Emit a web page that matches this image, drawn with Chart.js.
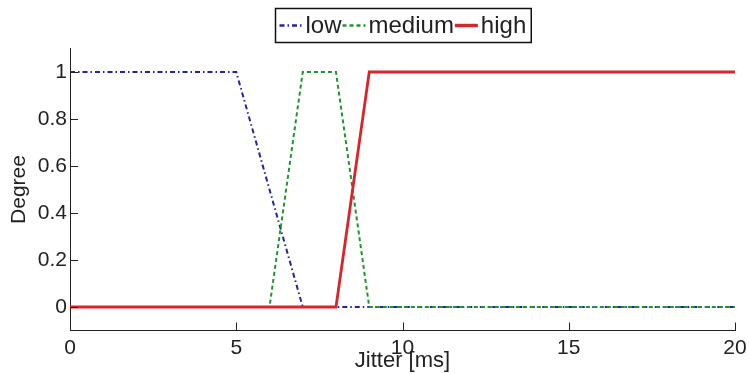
<!DOCTYPE html>
<html>
<head>
<meta charset="utf-8">
<script src="https://cdn.jsdelivr.net/npm/chart.js@4.4.0/dist/chart.umd.min.js"></script>
<style>
html, body { margin: 0; padding: 0; background: #fff; }
</style>
</head>
<body>
<canvas id="fuzzy-chart" width="749" height="374"></canvas>
<script>
// Membership functions of the jitter (x in ms, y = degree)
const lowX = [0, 5, 7, 20];
const lowY = [1, 1, 0, 0];
const mediumX = [0, 6, 7, 8, 9, 20];
const mediumY = [0, 0, 1, 1, 0, 0];
const highX = [0, 8, 9, 20];
const highY = [0, 0, 1, 1];

const seriesLabels = ['low', 'medium', 'high'];
const xTicks = [0, 5, 10, 15, 20];
const yTicks = [0, 0.2, 0.4, 0.6, 0.8, 1];
const xTitle = 'Jitter [ms]';
const yTitle = 'Degree';

const textColor = '#222';
const fontFamily = '"Liberation Sans", Arial, sans-serif';

function toPoints(xs, ys) {
    return xs.map((x, i) => ({ x: x, y: ys[i] }));
}

// small tick marks pointing into the plot, like matlab
const innerTicks = {
    id: 'innerTicks',
    afterDraw(chart) {
        const { ctx, chartArea, scales } = chart;
        ctx.save();
        ctx.strokeStyle = textColor;
        ctx.lineWidth = 1;
        ctx.beginPath();
        scales.x.ticks.forEach(t => {
            const px = Math.round(scales.x.getPixelForValue(t.value)) + 0.5;
            ctx.moveTo(px, chartArea.bottom);
            ctx.lineTo(px, chartArea.bottom - 8);
        });
        scales.y.ticks.forEach(t => {
            const py = Math.round(scales.y.getPixelForValue(t.value)) + 0.5;
            ctx.moveTo(chartArea.left, py);
            ctx.lineTo(chartArea.left + 8, py);
        });
        ctx.stroke();
        ctx.restore();
    }
};

// legend in a box, line samples glued to the labels
const boxedLegend = {
    id: 'boxedLegend',
    afterDraw(chart) {
        const ctx = chart.ctx;
        const sample = 23, gapText = 3, gapItem = 1, padX = 4;
        const top = 8.5, h = 34;
        ctx.save();
        ctx.font = '24px ' + fontFamily;
        const sets = chart.data.datasets;
        const widths = sets.map(d => ctx.measureText(d.label).width);
        let total = padX * 2;
        widths.forEach(w => { total += sample + gapText + w + gapItem; });
        const cx = (chart.chartArea.left + chart.chartArea.right) / 2;
        let x = Math.round(cx - total / 2) + 0.5;
        ctx.strokeStyle = '#111';
        ctx.lineWidth = 1.5;
        ctx.strokeRect(x, top, total, h);
        x += padX;
        const midY = top + h / 2;
        sets.forEach((d, i) => {
            ctx.save();
            ctx.strokeStyle = d.borderColor;
            ctx.lineWidth = d.borderWidth + 0.6;
            ctx.setLineDash(d.borderDash || []);
            ctx.beginPath();
            ctx.moveTo(x, midY);
            ctx.lineTo(x + sample, midY);
            ctx.stroke();
            ctx.restore();
            x += sample + gapText;
            ctx.fillStyle = textColor;
            ctx.textBaseline = 'middle';
            ctx.fillText(d.label, x, midY + 1);
            x += widths[i] + gapItem;
        });
        ctx.restore();
    }
};

const ctx = document.getElementById('fuzzy-chart');

new Chart(ctx, {
    type: 'line',
    data: {
        datasets: [
            {
                label: seriesLabels[0],
                data: toPoints(lowX, lowY),
                borderColor: '#2424a0',
                borderWidth: 2,
                borderDash: [5, 3, 1.5, 3],
                order: 3
            },
            {
                label: seriesLabels[1],
                data: toPoints(mediumX, mediumY),
                borderColor: '#1f962c',
                borderWidth: 2,
                borderDash: [4, 3],
                order: 2
            },
            {
                label: seriesLabels[2],
                data: toPoints(highX, highY),
                borderColor: '#d8242a',
                borderWidth: 2.8,
                order: 1
            }
        ]
    },
    options: {
        responsive: false,
        animation: false,
        devicePixelRatio: 1,
        layout: { padding: { top: 48.5, right: 14, left: 0, bottom: 0 } },
        elements: {
            point: { radius: 0 },
            line: { tension: 0, fill: false }
        },
        plugins: {
            legend: { display: false },
            tooltip: { enabled: false }
        },
        scales: {
            x: {
                type: 'linear',
                min: 0,
                max: 20,
                afterBuildTicks: s => { s.ticks = xTicks.map(v => ({ value: v })); },
                afterFit: s => {
                    s.height = 43.5;
                    s.paddingLeft = 0;
                    s.paddingRight = 0;
                },
                grid: { display: false, drawTicks: false },
                border: { display: true, color: textColor, width: 1 },
                ticks: {
                    color: textColor,
                    font: { size: 21, family: fontFamily },
                    padding: 5,
                    maxRotation: 0,
                    autoSkip: false
                },
                title: {
                    display: true,
                    text: xTitle,
                    color: textColor,
                    font: { size: 22, family: fontFamily },
                    padding: { top: 0, bottom: 0 }
                }
            },
            y: {
                type: 'linear',
                min: -0.1,
                max: 1.1,
                afterBuildTicks: s => { s.ticks = yTicks.map(v => ({ value: v })); },
                afterFit: s => { s.width = 70; },
                grid: { display: false, drawTicks: false },
                border: { display: true, color: textColor, width: 1 },
                ticks: {
                    color: textColor,
                    font: { size: 21, family: fontFamily },
                    padding: 3,
                    callback: v => String(v)
                },
                title: {
                    display: true,
                    text: yTitle,
                    color: textColor,
                    font: { size: 21, family: fontFamily },
                    padding: { top: 6.5, bottom: 0 }
                }
            }
        }
    },
    plugins: [innerTicks, boxedLegend]
});
</script>
</body>
</html>
